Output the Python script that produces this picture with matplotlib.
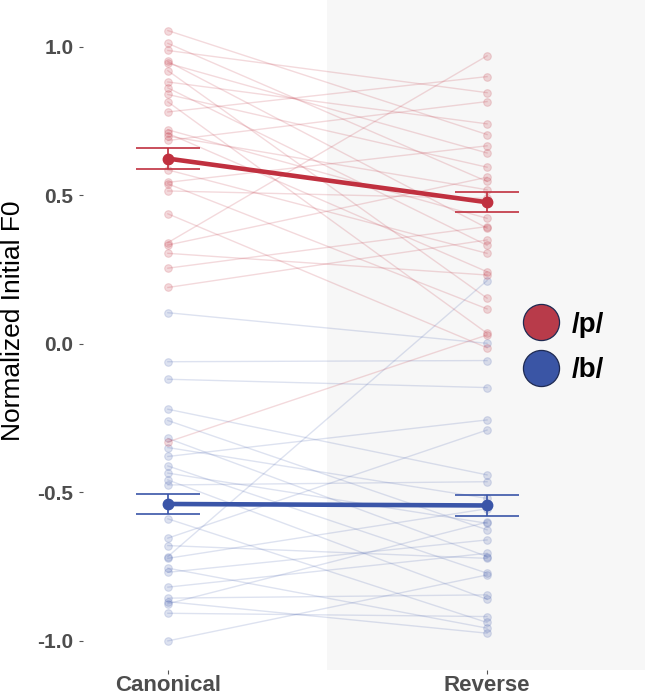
import matplotlib
matplotlib.use('Agg')
import matplotlib.pyplot as plt
from matplotlib.lines import Line2D

plt.rcParams['font.family'] = ['Liberation Sans', 'DejaVu Sans']
plt.rcParams['axes.unicode_minus'] = False

# ---- data ----
conditions = ['Canonical', 'Reverse']

# /p/ : paired values (Canonical -> Reverse)
p_canonical = [1.055, 1.012, 0.988, 0.951, 0.945, 0.920, 0.882, 0.862, 0.840, 0.815,
               0.781, 0.721, 0.709, 0.700, 0.685, 0.586, 0.544, 0.539, 0.515, 0.438,
               0.341, 0.333, 0.305, 0.255, 0.190, -0.330]
p_reverse = [0.705, 0.547, 0.846, 0.390, 0.643, 0.154, 0.741, 0.332, 0.595, 0.036,
             0.900, 0.423, 0.243, 0.519, 0.816, 0.305, 0.667, 0.118, 0.490, -0.013,
             0.970, 0.561, 0.232, 0.395, 0.350, 0.030]

# /b/ : paired values (Canonical -> Reverse)
b_canonical = [0.105, -0.060, -0.119, -0.220, -0.258, -0.318, -0.349, -0.379, -0.411, -0.435,
               -0.458, -0.475, -0.589, -0.654, -0.679, -0.716, -0.722, -0.755, -0.769, -0.819,
               -0.856, -0.868, -0.875, -0.907, -1.000]
b_reverse = [0.002, -0.056, -0.147, -0.441, -0.626, -0.716, -0.520, -0.256, -0.772, -0.604,
             -0.860, -0.464, -0.938, -0.290, -0.722, 0.213, -0.555, -0.957, -0.660, -0.705,
             -0.845, -0.974, -0.600, -0.918, -0.778]

mean_p = [0.624, 0.477]
se_p = [0.035, 0.034]
mean_b = [-0.539, -0.544]
se_b = [0.033, 0.034]

y_ticks = [-1.0, -0.5, 0.0, 0.5, 1.0]
legend_labels = ['/p/', '/b/']

RED = '#C0303F'
BLUE = '#3A55A8'
RED_LEG = '#B83B4A'
BLUE_LEG = '#3A55A5'

W, H = 645, 696
fig = plt.figure(figsize=(W / 100, H / 100), dpi=100)
ax = fig.add_axes([83 / W, 26 / H, 562 / W, 670 / H])

xpos = [1, 2]
ax.axvspan(1.5, 3.0, color='#F7F7F7', lw=0, zorder=0)

for c, r in zip(b_canonical, b_reverse):
    ax.plot(xpos, [c, r], color=BLUE, alpha=0.17, lw=1.0, marker='o', ms=5.5,
            mew=0.8, zorder=2)
for c, r in zip(p_canonical, p_reverse):
    ax.plot(xpos, [c, r], color=RED, alpha=0.18, lw=1.0, marker='o', ms=5.5,
            mew=0.8, zorder=2)

for m, s, col in [(mean_p, se_p, RED), (mean_b, se_b, BLUE)]:
    ax.plot(xpos, m, color=col, lw=3.3, marker='o', ms=7.5, zorder=5,
            solid_capstyle='butt')
    ax.errorbar(xpos, m, yerr=s, fmt='none', ecolor=col, elinewidth=1.2,
                capsize=23, capthick=1.2, zorder=5)

ax.set_xlim(0.734, 2.495)
ax.set_ylim(-1.098, 1.158)

ax.set_xticks(xpos)
ax.set_xticklabels(conditions, fontsize=16, fontweight='bold', color='#4D4D4D')
ax.set_yticks(y_ticks)
ax.set_yticklabels([f"{v:.1f}" for v in y_ticks], fontsize=15, fontweight='bold',
                   color='#4D4D4D')
ax.tick_params(axis='both', length=3, width=0.8, color='#555555')
ax.tick_params(axis='y', pad=4)
ax.tick_params(axis='x', pad=0.5)

for sp in ax.spines.values():
    sp.set_visible(False)

ax.set_ylabel('Normalized Initial F0', fontsize=19, color='black')
ax.yaxis.set_label_coords(-0.104, 0.522)

handles = [
    Line2D([], [], ls='none', marker='o', ms=26, mfc=RED_LEG, mec='#1E2A52', mew=0.9),
    Line2D([], [], ls='none', marker='o', ms=26, mfc=BLUE_LEG, mec='#1E2A52', mew=0.9),
]
ax.legend(handles, legend_labels, loc='center', bbox_to_anchor=(0.859, 0.481),
          frameon=False, prop={'size': 20, 'weight': 'bold'}, handlelength=1.0,
          handletextpad=0.6, labelspacing=0.7)

fig.savefig('out.png', dpi=100)
